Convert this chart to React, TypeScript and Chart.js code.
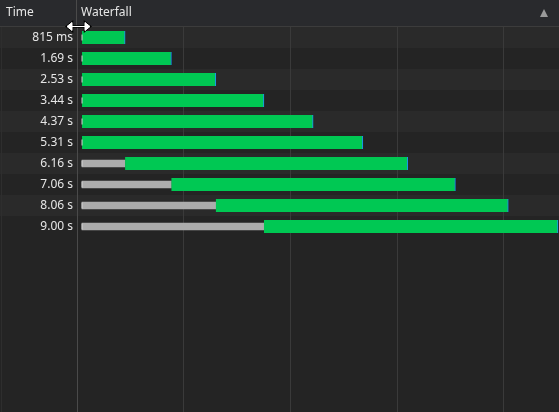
import React, { useEffect, useRef } from "react";
import { Chart, registerables } from "chart.js";

Chart.register(...registerables);

const timeLabels = ["815 ms", "1.69 s", "2.53 s", "3.44 s", "4.37 s", "5.31 s", "6.16 s", "7.06 s", "8.06 s", "9.00 s"];
const startMs = [0, 0, 0, 0, 0, 0, 815, 1690, 2530, 3440];
const endMs = [815, 1690, 2530, 3440, 4370, 5310, 6160, 7060, 8060, 9000];
const gridMs = [1910, 3933, 5956, 7979];
const xMin = -95;
const xMax = 9019;

const FONT = "'Noto Sans', 'Open Sans', sans-serif";

const chromePlugin = {
  id: "chrome",
  beforeDraw(chart: any) {
    const { ctx, width, height } = chart;
    const y = chart.scales.y;
    ctx.save();
    ctx.fillStyle = "#242424";
    ctx.fillRect(0, 0, width, height);
    for (let i = 0; i < timeLabels.length; i++) {
      if (i % 2 === 0) {
        const t = Math.round(y.getPixelForValue(i - 0.5));
        const b = Math.round(y.getPixelForValue(i + 0.5));
        ctx.fillStyle = "#2a2a2a";
        ctx.fillRect(0, t, width, b - t);
      }
    }
    // header
    ctx.fillStyle = "#292a2d";
    ctx.fillRect(0, 0, width, 26);
    ctx.fillStyle = "#3c3c3c";
    ctx.fillRect(0, 26, width, 1);
    ctx.fillStyle = "#4a4a4a";
    ctx.fillRect(76, 0, 1, 26);
    ctx.fillStyle = "#2e2e2e";
    ctx.fillRect(1, 27, 1, height - 27);
    ctx.fillStyle = "#e6e6e6";
    ctx.font = `12px ${FONT}`;
    ctx.textBaseline = "middle";
    ctx.textAlign = "left";
    ctx.fillText("Time", 6, 13);
    ctx.fillText("Waterfall", 81, 13);
    ctx.fillStyle = "#9a9a9a";
    ctx.beginPath();
    ctx.moveTo(540, 17);
    ctx.lineTo(548, 17);
    ctx.lineTo(544, 9);
    ctx.closePath();
    ctx.fill();
    ctx.restore();
  },
  afterDraw(chart: any) {
    const { ctx } = chart;
    ctx.save();
    const cy = 26.5;
    const drawArrow = (color: string, lw: number) => {
      ctx.strokeStyle = color;
      ctx.fillStyle = color;
      ctx.lineWidth = lw;
      ctx.beginPath();
      ctx.moveTo(70, cy);
      ctx.lineTo(88, cy);
      ctx.stroke();
      ctx.beginPath();
      ctx.moveTo(67, cy);
      ctx.lineTo(72, cy - 4);
      ctx.lineTo(72, cy + 4);
      ctx.closePath();
      ctx.fill();
      ctx.stroke();
      ctx.beginPath();
      ctx.moveTo(90, cy);
      ctx.lineTo(85, cy - 4);
      ctx.lineTo(85, cy + 4);
      ctx.closePath();
      ctx.fill();
      ctx.stroke();
    };
    drawArrow("#000000", 2.5);
    drawArrow("#ffffff", 1);
    ctx.restore();
  },
};

export default function App() {
  const ref = useRef<HTMLCanvasElement | null>(null);
  useEffect(() => {
    document.body.style.margin = "0";
    document.body.style.background = "#242424";
    const canvas = ref.current!;
    const rows = timeLabels.map((_, i) => i);
    const waitRows = rows.filter((i) => startMs[i] > 0);
    const chart = new Chart(canvas, {
      type: "bar",
      data: {
        datasets: [
          {
            type: "line",
            label: "start",
            data: rows.map((i) => ({ x: 0, y: i })),
            showLine: false,
            pointStyle: "line",
            pointRadius: 3,
            pointRotation: 90,
            pointBorderColor: "#d4d4d4",
            pointBorderWidth: 1,
            pointHoverRadius: 3,
            clip: false,
          } as any,
          {
            label: "content",
            data: rows.map((i) => ({ x: [startMs[i], endMs[i]], y: i })),
            backgroundColor: "#00c853",
            borderColor: "#1e90ff",
            borderWidth: { top: 0, right: 1, bottom: 0, left: 0 },
            borderSkipped: false,
            barThickness: 13,
            grouped: false,
          } as any,
          {
            label: "wait",
            data: waitRows.map((i) => ({ x: [0, startMs[i]], y: i })),
            backgroundColor: "#acacac",
            borderWidth: 0,
            barThickness: 7,
            grouped: false,
          } as any,
        ],
      },
      options: {
        indexAxis: "y",
        animation: false,
        responsive: false,
        devicePixelRatio: 1,
        layout: { autoPadding: false, padding: { top: 27, left: 0, right: 0, bottom: 0 } },
        plugins: { legend: { display: false }, tooltip: { enabled: false } },
        events: [],
        scales: {
          x: {
            type: "linear",
            min: xMin,
            max: xMax,
            position: "bottom",
            offset: false,
            afterBuildTicks: (scale: any) => {
              scale.ticks = gridMs.map((v) => ({ value: v }));
            },
            afterFit: (scale: any) => {
              scale.height = 0;
              scale.paddingLeft = 0;
              scale.paddingRight = 0;
            },
            ticks: { display: false },
            grid: { color: "#3a3a3a", drawTicks: false, lineWidth: 1, offset: false },
            border: { display: false },
          },
          y: {
            type: "linear",
            reverse: true,
            offset: false,
            min: -0.5,
            max: 17.8333,
            afterBuildTicks: (scale: any) => {
              scale.ticks = timeLabels.map((_, i) => ({ value: i }));
            },
            afterFit: (scale: any) => {
              scale.width = 77;
              scale.paddingTop = 0;
              scale.paddingBottom = 0;
            },
            ticks: {
              color: "#e6e6e6",
              font: { family: FONT, size: 12 },
              padding: 4,
              callback: (v: any) => timeLabels[v] ?? "",
            },
            grid: { display: false, drawTicks: false, offset: false },
            border: { display: true, color: "#4a4a4a", width: 1 },
          },
        },
      } as any,
      plugins: [chromePlugin],
    });
    return () => chart.destroy();
  }, []);
  return (
    <div style={{ position: "absolute", left: 0, top: 0, width: 559, height: 412 }}>
      <canvas ref={ref} width={559} height={412} />
    </div>
  );
}
